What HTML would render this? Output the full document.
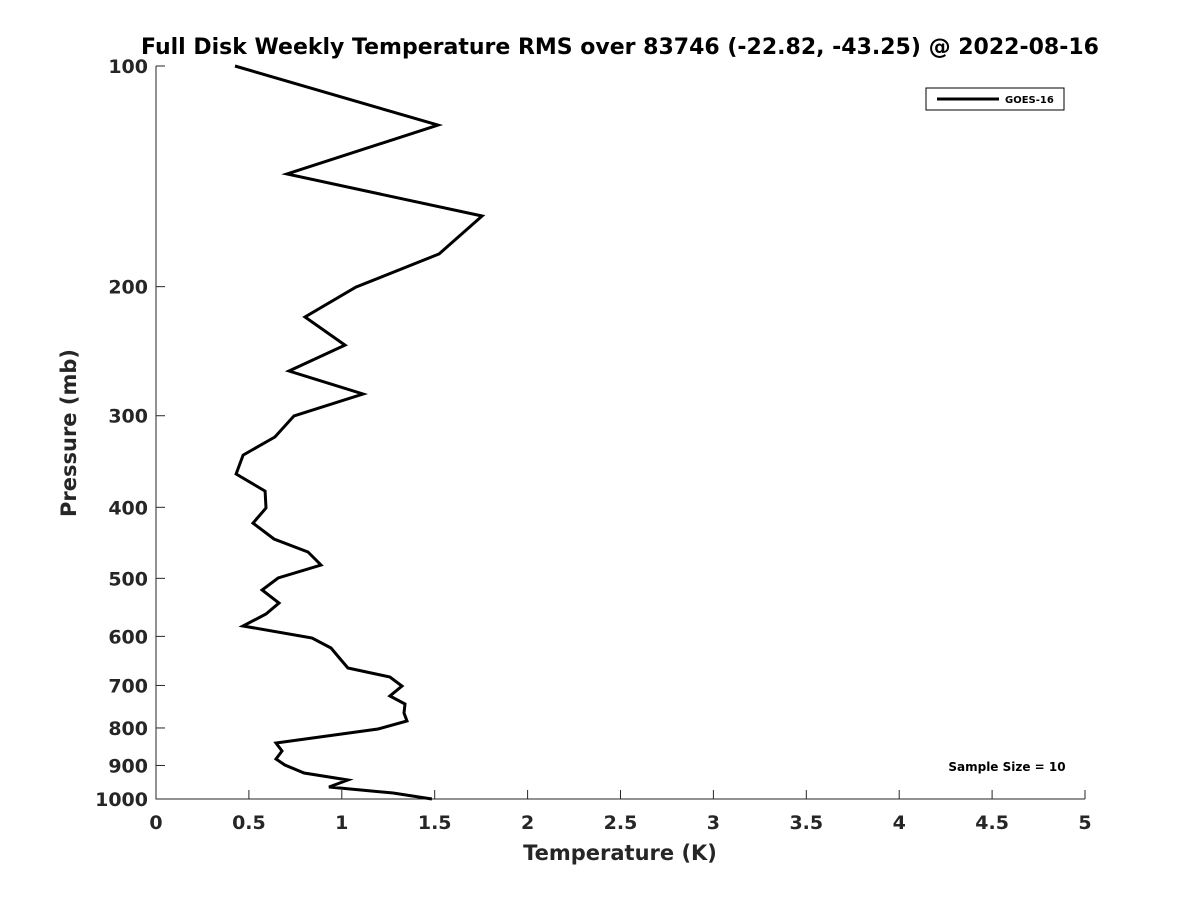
<!DOCTYPE html>
<html><head><meta charset="utf-8"><style>
body{margin:0;background:#fff;font-family:"Liberation Sans",sans-serif}
svg text{font-family:"DejaVu Sans","Liberation Sans",sans-serif;font-weight:bold;fill:#262626}
</style></head><body>
<svg id="chart" width="1200" height="900" xmlns="http://www.w3.org/2000/svg">
<rect width="1200" height="900" fill="#fff"/>
<text x="620" y="54" text-anchor="middle" font-size="22" style="fill:#000">Full Disk Weekly Temperature RMS over 83746 (-22.82, -43.25) @ 2022-08-16</text>
<g id="axes"></g>
<text x="620" y="860" text-anchor="middle" font-size="21">Temperature (K)</text>
<text transform="translate(76,433) rotate(-90)" text-anchor="middle" font-size="21">Pressure (mb)</text>
<g>
<rect x="926" y="88" width="138" height="22" fill="#fff" stroke="#000" stroke-width="1"/>
<line x1="937" y1="99" x2="999" y2="99" stroke="#000" stroke-width="3"/>
<text x="1005" y="103" font-size="10" style="fill:#000">GOES-16</text>
</g>
<text x="1007" y="771" text-anchor="middle" font-size="12" style="fill:#000">Sample Size = 10</text>
</svg>
<script>
const pressures=[100,120.4,140.4,160.2,180.5,200.3,220,240.3,260.7,280.2,300.2,320.7,339.5,360.3,380.1,400.9,420.3,441.9,460.3,479.5,499.5,518.7,540.3,559.3,580.7,603,622.3,646.2,662.6,681.6,701.1,723.5,742,763.3,782.7,802.6,838.7,860,881.9,898.7,921.5,942.1,962.9,981.3,1000];
const rmsValues=[0.425,1.518,0.705,1.755,1.523,1.076,0.802,1.017,0.716,1.114,0.743,0.640,0.469,0.431,0.587,0.592,0.522,0.635,0.818,0.888,0.657,0.571,0.662,0.592,0.468,0.840,0.942,0.996,1.033,1.259,1.324,1.259,1.340,1.335,1.351,1.195,0.646,0.678,0.646,0.694,0.797,1.033,0.931,1.276,1.485];
const xTicks=[0,0.5,1,1.5,2,2.5,3,3.5,4,4.5,5];
const xTickLabels=["0","0.5","1","1.5","2","2.5","3","3.5","4","4.5","5"];
const yTicks=[100,200,300,400,500,600,700,800,900,1000];
const yTickLabels=["100","200","300","400","500","600","700","800","900","1000"];
const L=156,R=1085,T=66,B=799;
const xs=v=>L+(v-0)/(5-0)*(R-L);
const ys=p=>T+(Math.log10(p)-2)/1*(B-T);
const NS="http://www.w3.org/2000/svg";
const g=document.getElementById('axes');
function mk(t,a){const e=document.createElementNS(NS,t);for(const k in a)e.setAttribute(k,a[k]);return e;}
const ax=mk('path',{d:`M${L},${T} V${B} H${R}`,fill:'none',stroke:'#262626','stroke-width':1});


g.appendChild(ax);
xTicks.forEach((v,i)=>{
 const x=xs(v);
 const t=mk('line',{x1:x,y1:B,x2:x,y2:B-9,stroke:'#262626'});
 
 
 g.appendChild(t);
 const l=mk('text',{x:x,y:B+30,'text-anchor':'middle','font-size':19});
 l.textContent=xTickLabels[i];
 
 
 g.appendChild(l);
});
yTicks.forEach((p,i)=>{
 const y=ys(p);
 const t=mk('line',{x1:L,y1:y,x2:L+9,y2:y,stroke:'#262626'});
 
 
 g.appendChild(t);
 const l=mk('text',{x:L-8,y:y+7,'text-anchor':'end','font-size':19});
 l.textContent=yTickLabels[i];
 
 
 g.appendChild(l);
});
const pts=pressures.map((p,i)=>xs(rmsValues[i]).toFixed(1)+','+ys(p).toFixed(1)).join(' ');
const line=mk('polyline',{points:pts,fill:'none',stroke:'#000','stroke-width':3,'stroke-linejoin':'miter'});


g.appendChild(line);
</script>
</body></html>
